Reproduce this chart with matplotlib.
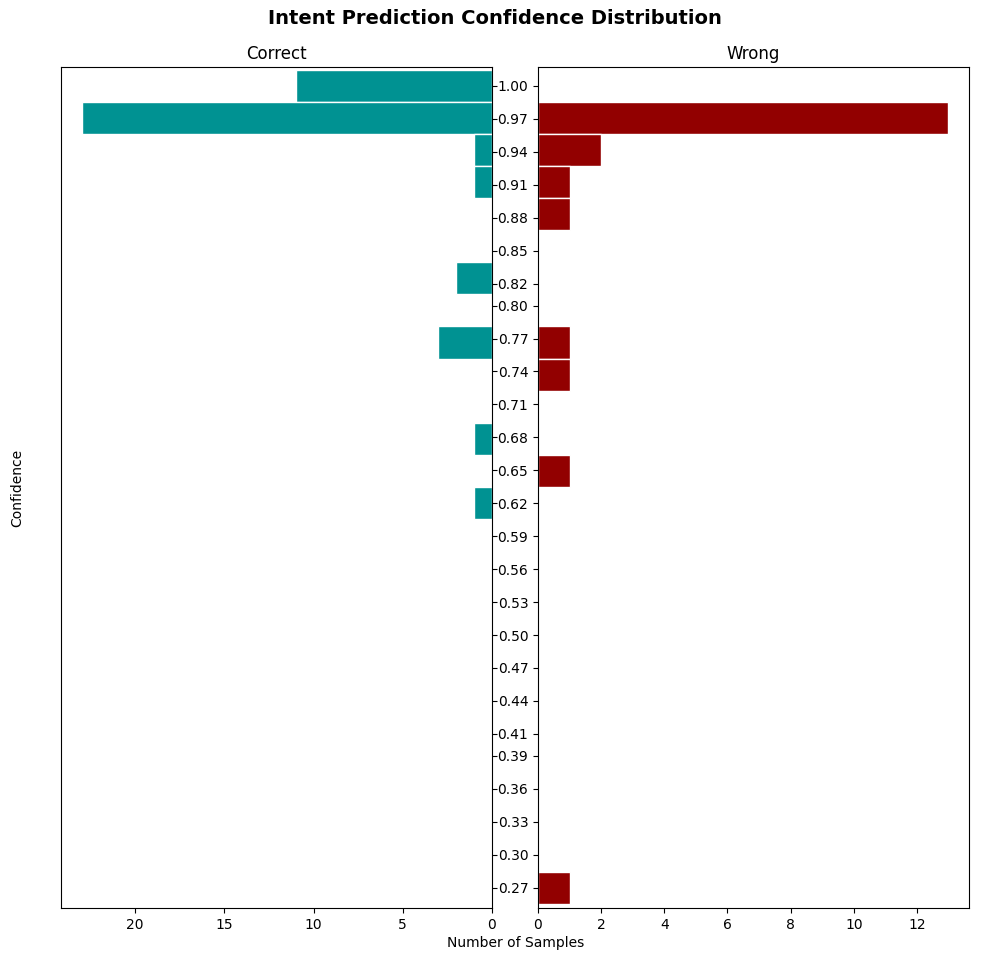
import matplotlib
matplotlib.use("Agg")
import matplotlib.pyplot as plt
import numpy as np

# 置信度分箱（从高到低，共 26 个箱）
bin_top = 1.00
bin_bottom = 0.27
n_bins = 26

# 每个箱内的样本数
correct_counts = [11, 23, 1, 1, 0, 0, 2, 0, 3, 0, 0, 1, 0, 1,
                  0, 0, 0, 0, 0, 0, 0, 0, 0, 0, 0, 0]
wrong_counts = [0, 13, 2, 1, 1, 0, 0, 0, 1, 1, 0, 0, 1, 0,
                0, 0, 0, 0, 0, 0, 0, 0, 0, 0, 0, 1]

# y 轴刻度
ytick_values = [1.00, 0.97, 0.94, 0.91, 0.88, 0.85, 0.82, 0.80, 0.77, 0.74,
                0.71, 0.68, 0.65, 0.62, 0.59, 0.56, 0.53, 0.50, 0.47, 0.44,
                0.41, 0.39, 0.36, 0.33, 0.30, 0.27]

correct_color = "#009292"
wrong_color = "#920000"


def main():
	centers = np.linspace(bin_top, bin_bottom, n_bins)
	bin_h = abs(centers[1] - centers[0])

	fig = plt.figure(figsize=(9.89, 9.61), dpi=100)
	W, H = 989, 961
	ax_l = fig.add_axes([61 / W, 1 - 908 / H, (492 - 61) / W, (908 - 67) / H])
	ax_r = fig.add_axes([538 / W, 1 - 908 / H, (969 - 538) / W, (908 - 67) / H],
	                    sharey=ax_l)

	ax_l.barh(centers, correct_counts, height=bin_h, color=correct_color,
	          edgecolor="white", linewidth=1)
	ax_r.barh(centers, wrong_counts, height=bin_h, color=wrong_color,
	          edgecolor="white", linewidth=1)

	ax_l.invert_xaxis()
	ax_l.set_ylim(0.2514, 1.0173)

	ax_r.set_yticks(ytick_values)
	ax_r.set_yticklabels([f"{v:.2f}" for v in ytick_values])
	ax_l.yaxis.tick_right()
	ax_l.tick_params(axis="y", labelright=False, labelleft=False)
	ax_r.tick_params(axis="y", labelleft=True)

	ax_l.set_title("Correct", fontsize=12)
	ax_r.set_title("Wrong", fontsize=12)

	fig.text(0.5, 1 - 19 / H, "Intent Prediction Confidence Distribution",
	         ha="center", va="center", fontsize=14, fontweight="bold")
	fig.text(17 / W, 1 - 488 / H, "Confidence", rotation=90,
	         ha="center", va="center", fontsize=10)
	fig.text(516 / W, 1 - 943 / H, "Number of Samples",
	         ha="center", va="center", fontsize=10)

	fig.savefig("out.png", dpi=100)


if __name__ == "__main__":
	main()
